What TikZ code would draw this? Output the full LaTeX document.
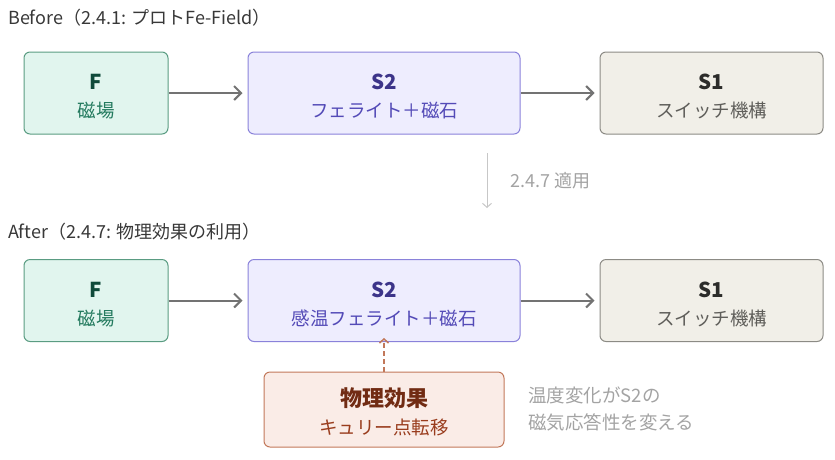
\documentclass[tikz,border=0pt]{standalone}
\usepackage{fontspec}
\setmainfont{Noto Sans CJK JP}
\usetikzlibrary{arrows.meta,positioning}

\definecolor{grnfill}{HTML}{E1F5EE}
\definecolor{grnline}{HTML}{5A9C82}
\definecolor{grndark}{HTML}{0F4A3A}
\definecolor{grntext}{HTML}{237A5E}
\definecolor{purfill}{HTML}{EEEDFE}
\definecolor{purline}{HTML}{8A82DA}
\definecolor{purdark}{HTML}{3C3489}
\definecolor{purtext}{HTML}{534AB7}
\definecolor{gryfill}{HTML}{F1EFE8}
\definecolor{gryline}{HTML}{8C8B85}
\definecolor{grydark}{HTML}{2C2C2A}
\definecolor{grytext}{HTML}{5F5E5A}
\definecolor{orgfill}{HTML}{FAECE7}
\definecolor{orgline}{HTML}{C2785A}
\definecolor{orgdark}{HTML}{712B13}
\definecolor{orgtext}{HTML}{993C1D}
\definecolor{flowarrow}{HTML}{737373}
\definecolor{notegray}{HTML}{A3A3A3}

% title line of a box, with a strut that pushes the text a little down
\newcommand{\boxtitle}[2][20.5]{\rule{0pt}{1.1\dimexpr#1pt\relax}{\fontsize{#1}{28}\selectfont\bfseries #2}}

\tikzset{
  box/.style={draw, line width=1pt, rounded corners=6pt, align=center,
    minimum height=82pt, inner sep=0pt, font=\fontsize{18.5}{28}\selectfont},
  fbox/.style={box, fill=grnfill, draw=grnline, minimum width=144pt},
  sbox/.style={box, fill=purfill, draw=purline, minimum width=272pt},
  tbox/.style={box, fill=gryfill, draw=gryline, minimum width=223pt},
  physbox/.style={box, fill=orgfill, draw=orgline, minimum width=240pt, minimum height=75pt},
  flow/.style={draw=flowarrow, line width=2pt, -{Straight Barb[length=7pt,width=14pt,line width=2pt]}},
  heading/.style={anchor=west, inner sep=0pt, text=black!78, font=\fontsize{18}{20}\selectfont},
  note/.style={anchor=west, inner sep=0pt, text=notegray, align=left, font=\fontsize{18.5}{27}\selectfont}
}

\begin{document}
\begin{tikzpicture}[x=1pt, y=-1pt]
	\useasboundingbox (0,0) rectangle (835,459);
	% before
	\node[heading] (before) at (8,18) {Before（2.4.1: プロトFe-Field）};
	\node[fbox] (f1) at (96,93) {\textcolor{grndark}{\boxtitle{F}}\\\textcolor{grntext}{磁場}};
	\node[sbox] (s21) at (384,93) {\textcolor{purdark}{\boxtitle{S2}}\\\textcolor{purtext}{フェライト＋磁石}};
	\node[tbox] (s11) at (711.5,93) {\textcolor{grydark}{\boxtitle{S1}}\\\textcolor{grytext}{スイッチ機構}};
	\draw[flow] (f1) -- ([xshift=-5pt]s21.west);
	\draw[flow] (s21) -- ([xshift=-5pt]s11.west);
	% step
	\coordinate (stepa) at (487,153);
	\coordinate (stepb) at (487,208);
	\draw[draw=black!22, line width=1pt, -{Straight Barb[length=4pt,width=9pt]}] (stepa) -- node[right=23pt, inner sep=0pt, text=notegray, font=\fontsize{18}{20}\selectfont]{2.4.7 適用} (stepb);
	% after
	\node[heading] (after) at (8,232) {After（2.4.7: 物理効果の利用）};
	\node[fbox] (f2) at (96,300.5) {\textcolor{grndark}{\boxtitle{F}}\\\textcolor{grntext}{磁場}};
	\node[sbox] (s22) at (384,300.5) {\textcolor{purdark}{\boxtitle{S2}}\\\textcolor{purtext}{感温フェライト＋磁石}};
	\node[tbox] (s12) at (711.5,300.5) {\textcolor{grydark}{\boxtitle{S1}}\\\textcolor{grytext}{スイッチ機構}};
	\draw[flow] (f2) -- ([xshift=-5pt]s22.west);
	\draw[flow] (s22) -- ([xshift=-5pt]s12.west);
	\node[physbox] (phys) at (384,409.5) {\textcolor{orgdark}{\boxtitle[22]{物理効果}}\\\textcolor{orgtext}{キュリー点転移}};
	\draw[draw=orgline, line width=1.5pt, dashed, dash pattern=on 5pt off 3pt, -{Straight Barb[length=4pt,width=9pt]}] (phys) -- ([yshift=4pt]s22.south);
	\node[note] (effect) at (528,408.5) {温度変化がS2の\\磁気応答性を変える};
\end{tikzpicture}
\end{document}
